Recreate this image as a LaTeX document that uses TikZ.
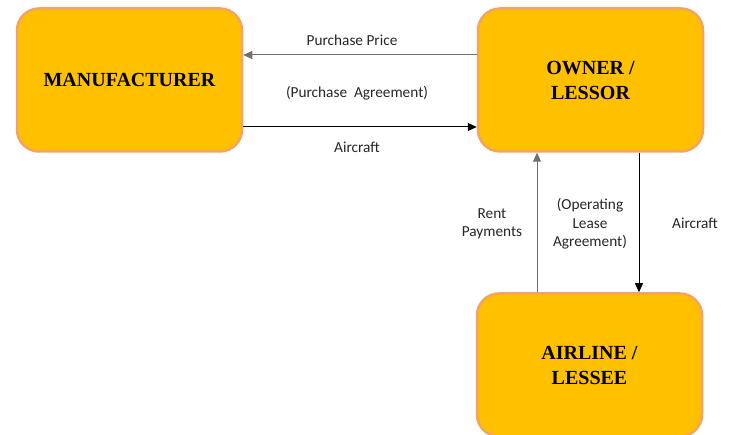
\documentclass[tikz,border=0pt]{standalone}
\usepackage{fontspec}
\setmainfont{Liberation Serif}
\newfontfamily\titlefont{Liberation Serif}[UprightFont={* Bold}]
\newfontfamily\lblfont{Carlito}
\usetikzlibrary{arrows.meta}
\definecolor{boxfill}{HTML}{FFC000}
\definecolor{boxline}{HTML}{F4A460}
\definecolor{lbltext}{HTML}{262626}
\definecolor{greyline}{HTML}{6F6F6F}
\begin{document}
\begin{tikzpicture}[x=1pt,y=-1pt,
  box/.style={draw=boxline, line width=2.5pt, fill=boxfill, rounded corners=22pt,
    minimum width=225pt, minimum height=143pt, align=center,
    font=\titlefont\fontsize{20}{25}\selectfont, inner sep=0pt},
  lbl/.style={font=\lblfont\fontsize{15.3}{18.5}\selectfont, text=lbltext, align=center, inner sep=0pt},
  arr/.style={line width=1pt, -{Triangle[length=9pt,width=8pt]}},
]
\clip (0,0) rectangle (732,435);
\useasboundingbox (0,0) rectangle (732,435);
\node[box] (man) at (129.5,80) {MANUFACTURER};
\node[box] (own) at (590.5,80) {OWNER /\\LESSOR};
\node[box] (air) at (589.5,365) {AIRLINE /\\LESSEE};

\draw[arr, greyline] ([yshift=25pt]own.west) -- ([yshift=25pt]man.east);
\draw[arr, black] ([yshift=-47pt]man.east) -- ([yshift=-47pt]own.west);
\draw[arr, greyline] ([xshift=-52.5pt]air.north) -- ([xshift=-53.5pt]own.south);
\draw[arr, black] ([xshift=48.5pt]own.south) -- ([xshift=49.5pt]air.north);

\node[lbl] (l1) at (352,40) {Purchase Price};
\node[lbl] (l2) at (357,93) {(Purchase\ \ Agreement)};
\node[lbl] (l3) at (357,147) {Aircraft};
\node[lbl] (l4) at (492,224) {Rent\\Payments};
\node[lbl] (l5) at (590,224) {(Operating\\Lease\\Agreement)};
\node[lbl] (l6) at (695,223) {Aircraft};
\end{tikzpicture}
\end{document}
